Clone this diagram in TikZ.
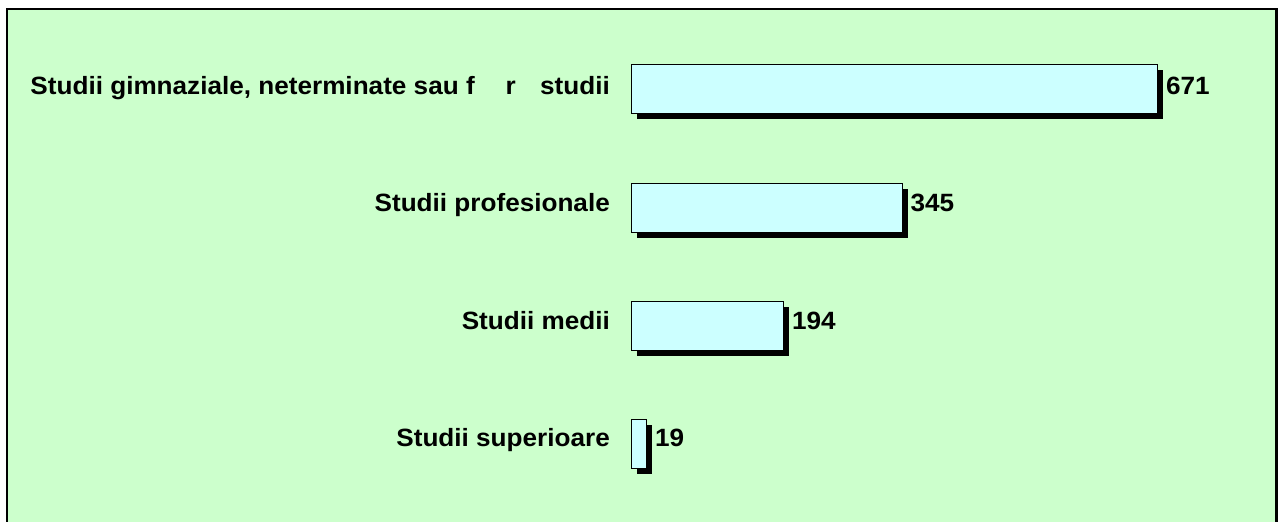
\documentclass[tikz,border=0pt]{standalone}
\usepackage{fontspec}
\setmainfont[FakeStretch=1.045]{Liberation Sans}
\definecolor{bggreen}{HTML}{CCFFCC}
\definecolor{barcyan}{HTML}{CCFFFF}
\tikzset{
  lbl/.style={anchor=base east, inner sep=0pt, font=\fontsize{25}{30}\selectfont\bfseries},
  val/.style={anchor=base west, inner sep=0pt, font=\fontsize{25}{30}\selectfont\bfseries},
  barbox/.style={draw=black, line width=1.2pt, fill=barcyan, anchor=north west, inner sep=0pt, minimum height=49pt},
  shadowbox/.style={fill=black, draw=none, anchor=north west, inner sep=0pt, minimum height=49pt},
}
\begin{document}
\begin{tikzpicture}[x=1pt,y=-1pt]
\useasboundingbox (0,0) rectangle (1278,522);
\fill[white] (0,0) rectangle (1278,522);
\fill[bggreen] (7,9) rectangle (1276.5,530);
\draw[line width=2.5pt] (7,530) -- (7,9) -- (1276.5,9) -- (1276.5,530);
% bars: scale 0.784 px per unit, origin x=631
\foreach \n/\w/\t in {1/526/64, 2/270.5/183, 3/152/300.5, 4/14.9/418.5}{
  \node[shadowbox, minimum width=\w pt] (s\n) at (637,\t+6) {};
  \node[barbox, minimum width=\w pt] (b\n) at (631,\t) {};
}
\node[lbl] (l1) at (610,94) {Studii gimnaziale, neterminate sau f\hspace{31pt}r\hspace{17pt} studii};
\node[lbl] (l2) at (610,211.5) {Studii profesionale};
\node[lbl] (l3) at (610,329) {Studii medii};
\node[lbl] (l4) at (610,446.5) {Studii superioare};
\node[val] (v1) at ([xshift=2.5pt]s1.east |- l1.base) {671};
\node[val] (v2) at ([xshift=2.5pt]s2.east |- l2.base) {345};
\node[val] (v3) at ([xshift=2.5pt]s3.east |- l3.base) {194};
\node[val] (v4) at ([xshift=2.5pt]s4.east |- l4.base) {19};
\end{tikzpicture}
\end{document}
